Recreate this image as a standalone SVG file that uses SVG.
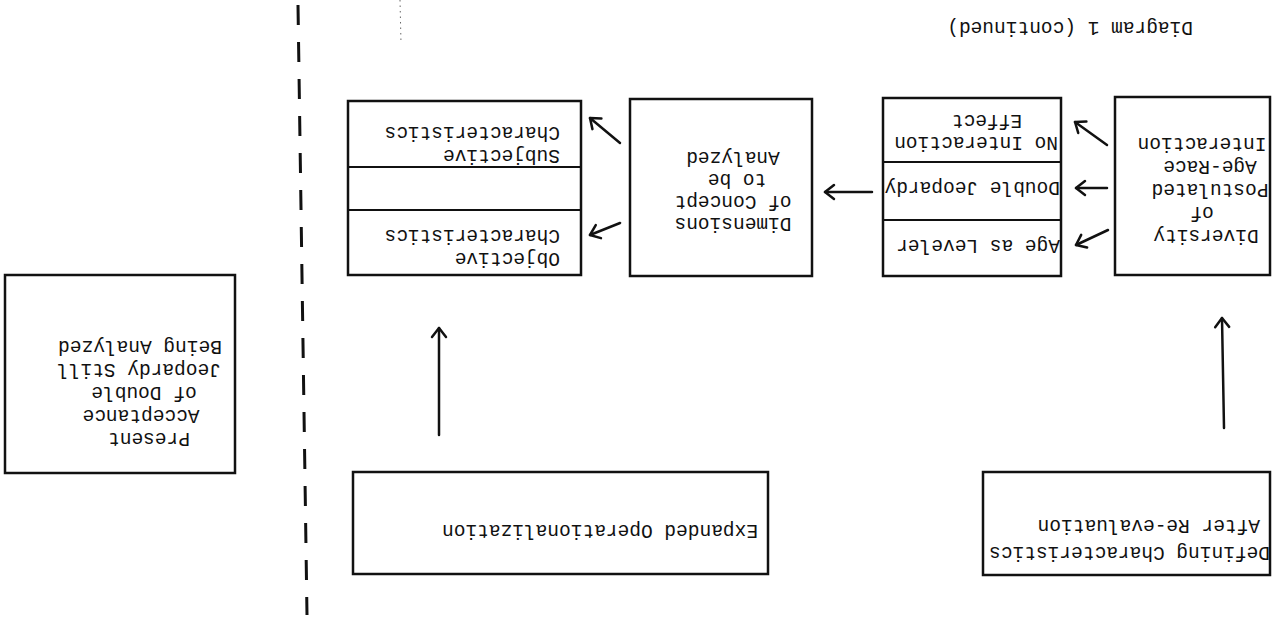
<svg xmlns="http://www.w3.org/2000/svg" width="1274" height="618" viewBox="0 0 1274 618">
  <defs>
    <style>
      .box { fill: none; stroke: #111; stroke-width: 2.5; }
      .div { stroke: #111; stroke-width: 2; }
      .lbl { font-family: "Liberation Mono", "DejaVu Sans Mono", monospace; font-size: 19.5px; fill: #111; }
      .mid { text-anchor: middle; }
      .arrow { fill: none; stroke: #111; stroke-width: 2.5; stroke-linecap: round; marker-end: url(#head); }
    </style>
    <marker id="head" viewBox="-12 -9 16 18" markerWidth="16" markerHeight="18" refX="0" refY="0" markerUnits="userSpaceOnUse" orient="auto">
      <path d="M -9 -7 L 0 0 L -9 7" fill="none" stroke="#111" stroke-width="2.5" stroke-linecap="round" stroke-linejoin="round"/>
    </marker>
  </defs>
  <rect width="1274" height="618" fill="#fff"/>

  <!-- The sheet is printed upside down -->
  <g transform="rotate(180 637 309)">

    <text class="lbl" x="81" y="596">Diagram 1 (continued)</text>

    <!-- dividing line between the two halves -->
    <line x1="976" y1="613" x2="967" y2="3" stroke="#111" stroke-width="3" stroke-dasharray="20 17"/>
    <line x1="874" y1="618" x2="873" y2="575" stroke="#666" stroke-width="1" stroke-dasharray="1.5 4"/>

    <g id="diversity">
      <rect class="box" x="4" y="343" width="155" height="178"/>
      <text class="lbl mid" x="68" y="388">Diversity</text>
      <text class="lbl mid" x="72" y="411">of</text>
      <text class="lbl mid" x="64" y="434">Postulated</text>
      <text class="lbl mid" x="64" y="457">Age-Race</text>
      <text class="lbl mid" x="72" y="480">Interaction</text>
    </g>

    <g id="effects">
      <rect class="box" x="213" y="342" width="178" height="178"/>
      <line class="div" x1="213" y1="398" x2="391" y2="398"/>
      <line class="div" x1="213" y1="456" x2="391" y2="456"/>
      <text class="lbl" x="214" y="378">Age as Leveler</text>
      <text class="lbl" x="214" y="436">Double Jeopardy</text>
      <text class="lbl" x="216" y="481">No Interaction</text>
      <text class="lbl" x="252" y="503">Effect</text>
    </g>

    <g id="dimensions">
      <rect class="box" x="462" y="342" width="182" height="177"/>
      <text class="lbl mid" x="541" y="400">Dimensions</text>
      <text class="lbl mid" x="541" y="422">of Concept</text>
      <text class="lbl mid" x="537" y="444">to be</text>
      <text class="lbl mid" x="541" y="466">Analyzed</text>
    </g>

    <g id="characteristics">
      <rect class="box" x="693" y="343" width="233" height="174"/>
      <line class="div" x1="693" y1="408" x2="926" y2="408"/>
      <line class="div" x1="693" y1="451" x2="926" y2="451"/>
      <text class="lbl" x="714" y="365">Objective</text>
      <text class="lbl" x="714" y="388">Characteristics</text>
      <text class="lbl" x="714" y="468">Subjective</text>
      <text class="lbl" x="714" y="491">Characteristics</text>
    </g>

    <g id="defining">
      <rect class="box" x="4" y="43" width="287" height="103"/>
      <text class="lbl" x="4" y="71">Defining Characteristics</text>
      <text class="lbl" x="14" y="98">After Re-evaluation</text>
    </g>

    <g id="expanded">
      <rect class="box" x="506" y="44" width="415" height="102"/>
      <text class="lbl" x="516" y="93">Expanded Operationalization</text>
    </g>

    <g id="present">
      <rect class="box" x="1039" y="145" width="230" height="198"/>
      <text class="lbl mid" x="1125" y="185">Present</text>
      <text class="lbl mid" x="1133" y="208">Acceptance</text>
      <text class="lbl mid" x="1130" y="231">of Double</text>
      <text class="lbl mid" x="1135" y="254">Jeopardy Still</text>
      <text class="lbl mid" x="1134" y="277">Being Analyzed</text>
    </g>

    <g id="connectors">
      <line class="arrow" x1="166" y1="388" x2="198" y2="373"/>
      <line class="arrow" x1="167" y1="430" x2="198" y2="430"/>
      <line class="arrow" x1="167" y1="473" x2="199" y2="496"/>
      <line class="arrow" x1="402" y1="426" x2="449" y2="426"/>
      <line class="arrow" x1="654" y1="395" x2="684" y2="383"/>
      <line class="arrow" x1="654" y1="475" x2="684" y2="500"/>
      <line class="arrow" x1="50" y1="190" x2="52" y2="300"/>
      <line class="arrow" x1="835" y1="183" x2="835" y2="290"/>
    </g>
  </g>
</svg>
